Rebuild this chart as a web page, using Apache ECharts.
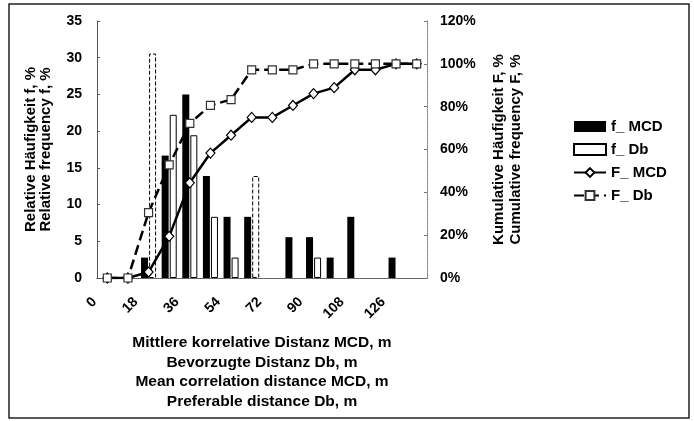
<!DOCTYPE html>
<html>
<head>
<meta charset="utf-8">
<script src="https://cdn.jsdelivr.net/npm/echarts@6/dist/echarts.min.js"></script>
<style>
  html, body { margin: 0; padding: 0; background: #fff; }
  #chart { width: 694px; height: 421px; }
</style>
</head>
<body>
<div id="chart"></div>
<script>
// Distanzklassen in m (Klassenbreite 9 m)
const distances = ['0', '9', '18', '27', '36', '45', '54', '63', '72', '81', '90', '99', '108', '117', '126', '135']

// relative Häufigkeit f, %
const fMCD = [0, 0, 2.78, 16.67, 25, 13.89, 8.33, 8.33, 0, 5.56, 5.56, 2.78, 8.33, 0, 2.78, 0]
const fDb = [0, 0, 30.56, 22.22, 19.44, 8.33, 2.78, 13.89, 0, 0, 2.78, 0, 0, 0, 0, 0]

// kumulative Häufigkeit F, %
const cumMCD = [0, 0, 2.78, 19.44, 44.44, 58.33, 66.67, 75, 75, 80.56, 86.11, 88.89, 97.22, 97.22, 100, 100]
const cumDb = [0, 0, 30.56, 52.78, 72.22, 80.56, 83.33, 97.22, 97.22, 97.22, 100, 100, 100, 100, 100, 100]

const seriesNames = ['f_ MCD', 'f_ Db', 'F_ MCD', 'F_ Db']

const FONT = "'Liberation Sans', Arial, sans-serif"

// leere Klassen nicht zeichnen (sonst kleiner Strich auf der Achse)
const hideZero = v => (v === 0 ? '-' : v)

const chart = echarts.init(document.getElementById('chart'))

chart.setOption({
  animation: false,
  backgroundColor: '#fff',
  textStyle: { fontFamily: FONT, fontWeight: 'bold', color: '#000' },
  graphic: [{
    type: 'rect',
    shape: { x: 9, y: 4, width: 680, height: 414 },
    style: { fill: 'none', stroke: '#222', lineWidth: 1.5 },
    silent: true
  }],
  grid: { left: 97, right: 267, top: 21, bottom: 143, outerBoundsMode: 'none' },
  legend: {
    orient: 'vertical',
    left: 568,
    top: 113,
    itemWidth: 32,
    itemHeight: 11,
    itemGap: 6,
    data: [
      { name: seriesNames[0], icon: 'rect' },
      { name: seriesNames[1], icon: 'rect' },
      { name: seriesNames[2] },
      { name: seriesNames[3] }
    ],
    textStyle: { fontFamily: FONT, fontWeight: 'bold', fontSize: 15, color: '#000', lineHeight: 17 }
  },
  xAxis: [{
    type: 'category',
    data: distances,
    name: 'Mittlere korrelative Distanz MCD, m\nBevorzugte Distanz Db, m\nMean correlation distance MCD, m\nPreferable distance Db, m',
    nameLocation: 'middle',
    nameGap: 55,
    nameTextStyle: { fontFamily: FONT, fontWeight: 'bold', fontSize: 15.5, lineHeight: 19.5, color: '#000' },
    axisLine: { lineStyle: { color: '#222', width: 1 } },
    axisTick: { show: false },
    axisLabel: {
      interval: 1,
      rotate: 45,
      margin: 9,
      padding: [0, 18, 0, 0],
      fontFamily: FONT,
      fontWeight: 'bold',
      fontSize: 14,
      color: '#000'
    }
  }, {
    type: 'category',
    data: distances,
    position: 'top',
    axisLine: { lineStyle: { color: '#777', type: 'dotted', width: 1 } },
    axisTick: { show: false },
    axisLabel: { show: false }
  }],
  yAxis: [{
    type: 'value',
    min: 0,
    max: 35,
    interval: 5,
    name: 'Relative Häufigkeit f, %\nRelative frequency f, %',
    nameLocation: 'middle',
    nameGap: 44,
    nameTextStyle: { fontFamily: FONT, fontWeight: 'bold', fontSize: 15, lineHeight: 15, color: '#000' },
    splitLine: { show: false },
    axisLine: { show: true, lineStyle: { color: '#555', width: 1 } },
    axisTick: { show: true, inside: true, length: 3, lineStyle: { color: '#555' } },
    axisLabel: { margin: 15, fontFamily: FONT, fontWeight: 'bold', fontSize: 14, color: '#000' }
  }, {
    type: 'value',
    min: 0,
    max: 120,
    interval: 20,
    position: 'right',
    name: 'Kumulative Häufigkeit F, %\nCumulative frequency F, %',
    nameLocation: 'middle',
    nameGap: 63,
    nameTextStyle: { fontFamily: FONT, fontWeight: 'bold', fontSize: 15, lineHeight: 17, color: '#000' },
    splitLine: { show: false },
    axisLine: { show: true, lineStyle: { color: '#777', type: 'dotted', width: 1 } },
    axisTick: { show: true, inside: true, length: 3, lineStyle: { color: '#777' } },
    axisLabel: { margin: 13, formatter: '{value}%', fontFamily: FONT, fontWeight: 'bold', fontSize: 14, color: '#000' }
  }],
  series: [
    {
      name: seriesNames[0],
      type: 'bar',
      data: fMCD.map(hideZero),
      barWidth: 7,
      barGap: '15%',
      itemStyle: { color: '#000' }
    },
    {
      name: seriesNames[1],
      type: 'bar',
      // zwei Balken im Original mit gestricheltem Rand
      data: fDb.map((v, i) => (i === 2 || i === 7) ? { value: v, itemStyle: { borderType: 'dashed' } } : hideZero(v)),
      barWidth: 7,
      itemStyle: { color: '#fff', borderColor: '#000', borderWidth: 1 }
    },
    {
      name: seriesNames[2],
      type: 'line',
      yAxisIndex: 1,
      data: cumMCD,
      symbol: 'diamond',
      symbolSize: [9, 10],
      lineStyle: { color: '#000', width: 2.5 },
      itemStyle: { color: '#fff', borderColor: '#000', borderWidth: 1.2 }
    },
    {
      name: seriesNames[3],
      type: 'line',
      yAxisIndex: 1,
      data: cumDb,
      symbol: 'rect',
      symbolSize: 8,
      lineStyle: { color: '#000', width: 2.5, type: [10, 5] },
      itemStyle: { color: '#fff', borderColor: '#333', borderWidth: 1.2 }
    }
  ]
})
</script>
</body>
</html>
